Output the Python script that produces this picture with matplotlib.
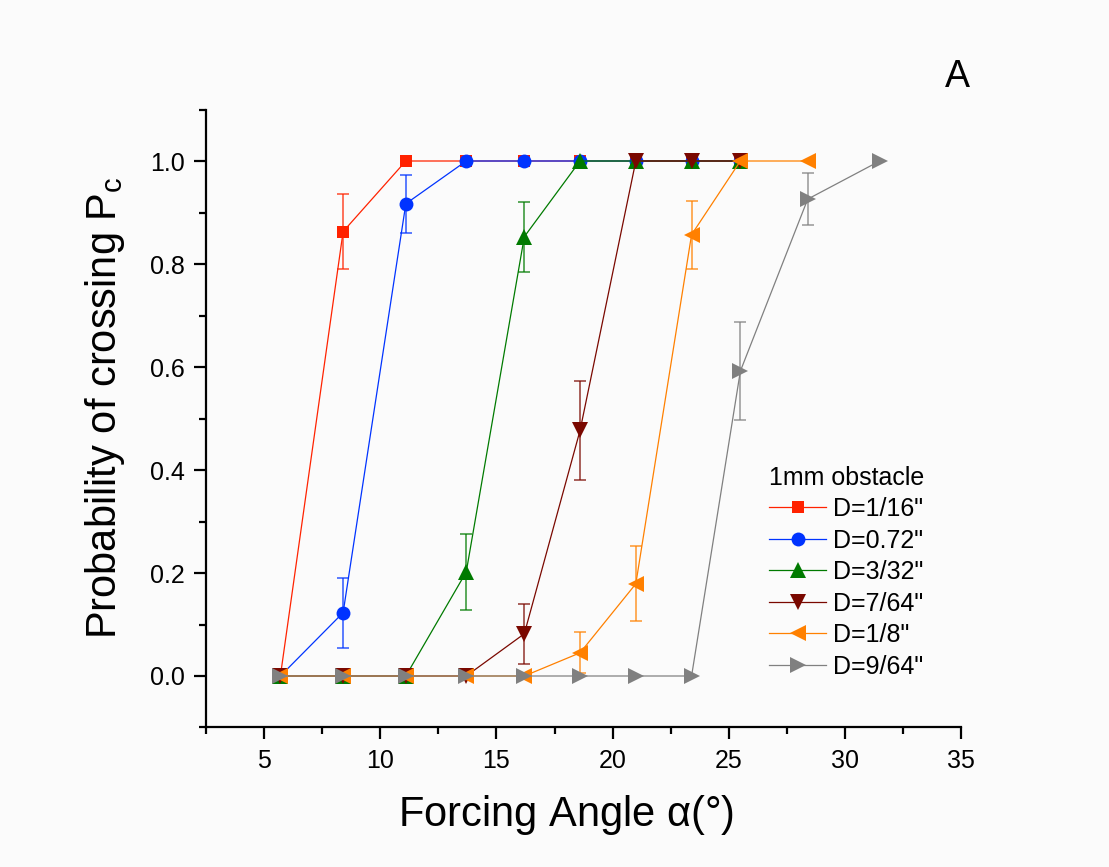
import numpy as np
import matplotlib
matplotlib.use("Agg")
import matplotlib.pyplot as plt
from matplotlib.ticker import MultipleLocator

plt.rcParams['font.family'] = ['Liberation Sans', 'DejaVu Sans']
plt.rcParams['mathtext.fontset'] = 'custom'
plt.rcParams['mathtext.rm'] = 'Liberation Sans'
plt.rcParams['mathtext.it'] = 'Liberation Sans'

# forcing angles (deg)
angle = [5.7, 8.4, 11.1, 13.7, 16.2, 18.6, 21.0, 23.4, 25.5, 28.4, 31.5]

labels = ['D=1/16"', 'D=0.72"', 'D=3/32"', 'D=7/64"', 'D=1/8"', 'D=9/64"']

p_116 = [0, 0.863, 1, 1, 1, 1, 1, 1, 1]
e_116 = [0, 0.073, 0, 0, 0, 0, 0, 0, 0]
p_072 = [0, 0.123, 0.917, 1, 1, 1, 1, 1, 1]
e_072 = [0, 0.068, 0.056, 0, 0, 0, 0, 0, 0]
p_332 = [0, 0, 0, 0.202, 0.853, 1, 1, 1, 1]
e_332 = [0, 0, 0, 0.073, 0.068, 0, 0, 0, 0]
p_764 = [0, 0, 0, 0, 0.082, 0.477, 1, 1, 1]
e_764 = [0, 0, 0, 0, 0.058, 0.096, 0, 0, 0]
p_18 = [0, 0, 0, 0, 0, 0.045, 0.179, 0.857, 1, 1]
e_18 = [0, 0, 0, 0, 0, 0.040, 0.073, 0.066, 0, 0]
p_964 = [0, 0, 0, 0, 0, 0, 0, 0, 0.592, 0.926, 1]
e_964 = [0, 0, 0, 0, 0, 0, 0, 0, 0.095, 0.051, 0]

series = [p_116, p_072, p_332, p_764, p_18, p_964]
errors = [e_116, e_072, e_332, e_764, e_18, e_964]
colors = ['#ff2200', '#0033ff', '#007a00', '#7a0800', '#ff8000', '#808080']
markers = ['s', 'o', '^', 'v', '<', '>']
msizes = [8.8, 10, 11.5, 11.5, 11.5, 11.5]

fig = plt.figure(figsize=(11.09, 8.67), dpi=100)
fig.patch.set_facecolor('#fbfbfb')
ax = fig.add_axes([0.1858, 0.1609, 0.6808, 0.7128])
ax.set_facecolor('#fbfbfb')

for p, e, c, m, ms, lab in zip(series, errors, colors, markers, msizes, labels):
    x = np.array(angle[:len(p)])
    y = np.array(p, dtype=float)
    err = np.array(e, dtype=float)
    has = err > 0
    ax.errorbar(x[has], y[has], yerr=err[has], fmt='none', ecolor=c, alpha=0.75,
                elinewidth=1.2, capsize=4.2, capthick=1.2, zorder=2)
    ax.plot(x, y, color=c, lw=0.9, marker=m, ms=ms, mew=0, label=lab, zorder=3)

ax.set_xlim(2.5, 35)
ax.set_ylim(-0.1, 1.1)
ax.xaxis.set_major_locator(MultipleLocator(5))
ax.xaxis.set_minor_locator(MultipleLocator(2.5))
ax.yaxis.set_minor_locator(MultipleLocator(0.1))
ax.set_yticks([0, 0.2, 0.4, 0.6, 0.8, 1.0])
ax.set_yticklabels(['0.0', '0.2', '0.4', '0.6', '0.8', '1.0'])

for s in ['top', 'right']:
    ax.spines[s].set_visible(False)
for s in ['left', 'bottom']:
    ax.spines[s].set_linewidth(1.6)

ax.tick_params(which='major', direction='out', length=8.6, width=1.6, labelsize=18, pad=7)
ax.tick_params(which='minor', direction='out', length=5, width=1.6)

ax.set_xlabel(r'Forcing Angle $\alpha$(°)', fontsize=30, labelpad=14, x=0.477)
ax.set_ylabel(r'Probability of crossing P$_{\rm c}$', fontsize=30, labelpad=16, y=0.517)

fig.text(945 / 1109, 1 - 87 / 867, 'A', fontsize=27, va='baseline')

leg = ax.legend(title='1mm obstacle', loc='upper left', bbox_to_anchor=(0.729, 0.444),
                frameon=False, fontsize=18, title_fontsize=18, handlelength=2.3,
                labelspacing=0.3, borderpad=0, handletextpad=0.28, alignment='left')

fig.savefig('out.png', dpi=100, facecolor=fig.get_facecolor())
